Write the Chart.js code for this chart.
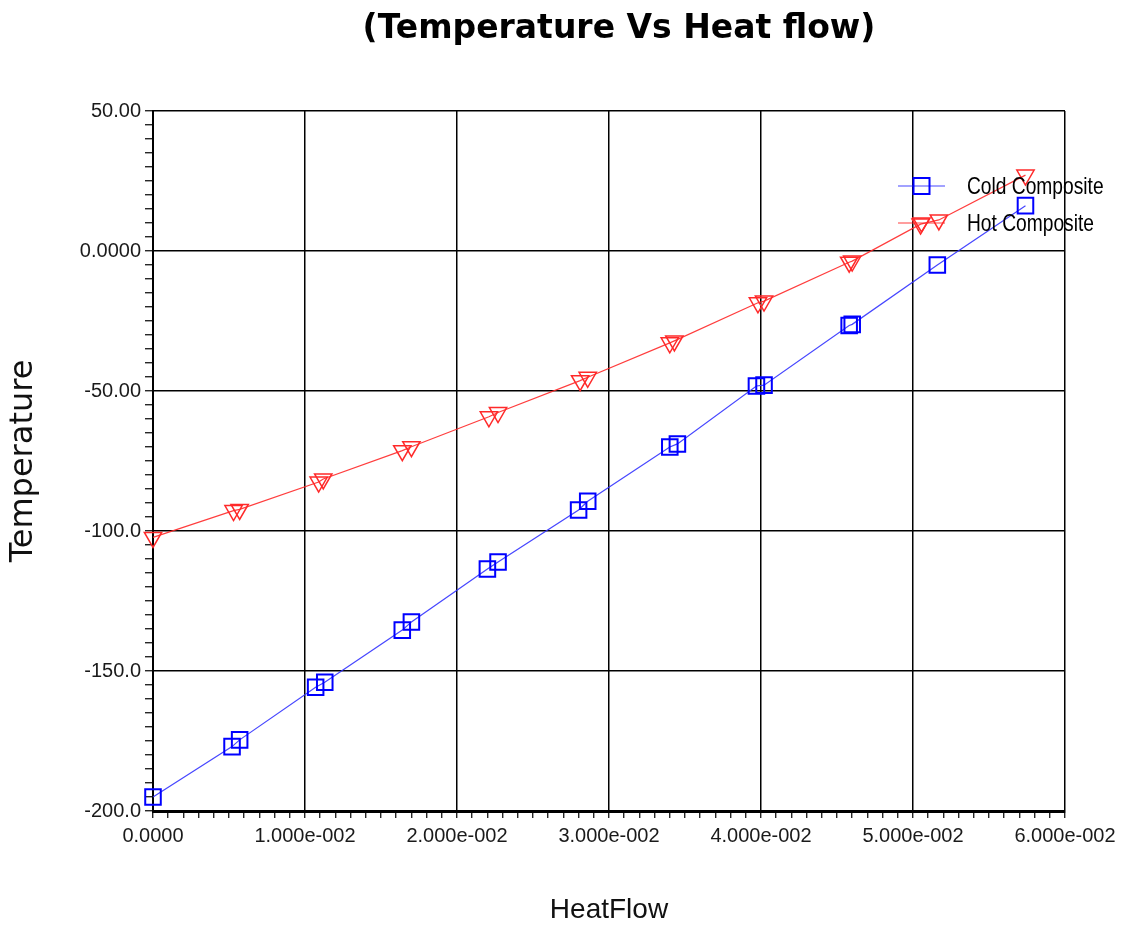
<!DOCTYPE html>
<html>
<head>
<meta charset="utf-8">
<title>Temperature Vs Heat flow</title>
<script src="https://cdn.jsdelivr.net/npm/chart.js@4.4.1/dist/chart.umd.min.js"></script>
<style>
  html, body { margin: 0; padding: 0; background: #fff; }
  #wrap { position: relative; width: 1122px; height: 932px; }
</style>
</head>
<body>
<div id="wrap"><canvas id="chart" width="1122" height="932"></canvas></div>
<script>
// --- data ---
const coldHeatFlow = [0.0000, 0.0052, 0.0057, 0.0107, 0.0113, 0.0164, 0.0170, 0.0220, 0.0227,
  0.0280, 0.0286, 0.0340, 0.0345, 0.0397, 0.0402, 0.0458, 0.0460, 0.0516, 0.0574];
const coldTemperature = [-195.0, -177.0, -174.6, -155.8, -154.0, -135.4, -132.5, -113.6, -111.1,
  -92.5, -89.4, -70.0, -68.9, -48.2, -47.9, -26.6, -26.2, -5.0, 16.2];

const hotHeatFlow = [0.0000, 0.0053, 0.0057, 0.0109, 0.0112, 0.0164, 0.0170, 0.0221, 0.0227,
  0.0281, 0.0286, 0.0340, 0.0343, 0.0398, 0.0402, 0.0458, 0.0460, 0.0505, 0.0517, 0.0574];
const hotTemperature = [-102.3, -92.7, -92.3, -82.5, -81.4, -71.3, -69.9, -59.2, -57.7,
  -46.3, -45.1, -32.8, -32.1, -18.5, -17.9, -4.0, -3.6, 9.6, 11.1, 27.1];

const seriesNames = ['Cold Composite', 'Hot Composite'];

const xTickValues = [0, 0.01, 0.02, 0.03, 0.04, 0.05, 0.06];
const xTickLabels = ['0.0000', '1.000e-002', '2.000e-002', '3.000e-002', '4.000e-002', '5.000e-002', '6.000e-002'];
const yTickValues = [50, 0, -50, -100, -150, -200];
const yTickLabels = ['50.00', '0.0000', '-50.00', '-100.0', '-150.0', '-200.0'];

const chartTitle = '(Temperature Vs Heat flow)';
const xTitle = 'HeatFlow';
const yTitle = 'Temperature';

// --- helpers ---
const SANS = '"Liberation Sans", Arial, sans-serif';

const findLabel = (value, values, labels, tol) => {
  const idx = values.findIndex((v) => Math.abs(v - value) < tol);
  return idx >= 0 ? labels[idx] : '';
};
const isMajor = (value, values, tol) => values.some((v) => Math.abs(v - value) < tol);

const toPoints = (xs, ys) => xs.map((x, i) => ({ x, y: ys[i] }));

// title + legend drawn straight onto the canvas
const decorations = {
  id: 'decorations',
  afterDraw(chart) {
    const { ctx } = chart;
    ctx.save();
    ctx.fillStyle = '#000';
    ctx.font = 'bold 33px "DejaVu Sans", sans-serif';
    ctx.textAlign = 'center';
    ctx.textBaseline = 'middle';
    ctx.fillText(chartTitle, 619, 29);

    const rows = [186, 223];
    chart.data.datasets.forEach((ds, i) => {
      const y = rows[i];
      ctx.strokeStyle = ds.borderColor;
      ctx.lineWidth = 1.2;
      ctx.beginPath();
      ctx.moveTo(898, y);
      ctx.lineTo(945, y);
      ctx.stroke();
      ctx.strokeStyle = ds.pointBorderColor;
      ctx.lineWidth = ds.pointBorderWidth;
      ctx.beginPath();
      if (ds.pointStyle === 'rect') {
        ctx.rect(913.5, y - 8, 16, 16);
      } else {
        ctx.moveTo(913, y - 5);
        ctx.lineTo(930, y - 5);
        ctx.lineTo(921.5, y + 9);
        ctx.closePath();
      }
      ctx.stroke();
      // narrow legend text: squeeze a regular face horizontally
      ctx.save();
      ctx.translate(967, y + 8);
      ctx.scale(0.8, 1);
      ctx.fillStyle = '#000';
      ctx.font = '24px ' + SANS;
      ctx.textAlign = 'left';
      ctx.textBaseline = 'alphabetic';
      ctx.fillText(ds.label, 0, 0);
      ctx.restore();
    });
    ctx.restore();
  },
};

new Chart(document.getElementById('chart'), {
  type: 'scatter',
  data: {
    datasets: [
      {
        label: seriesNames[0],
        data: toPoints(coldHeatFlow, coldTemperature),
        showLine: true,
        borderColor: 'rgba(50,50,255,0.9)',
        borderWidth: 1.2,
        pointStyle: 'rect',
        pointRadius: 11,
        pointBorderColor: '#0000ff',
        pointBorderWidth: 2,
        pointBackgroundColor: 'rgba(0,0,0,0)',
        clip: false,
      },
      {
        label: seriesNames[1],
        data: toPoints(hotHeatFlow, hotTemperature),
        showLine: true,
        borderColor: 'rgba(255,40,40,0.9)',
        borderWidth: 1.2,
        pointStyle: 'triangle',
        pointRotation: 180,
        pointRadius: 10,
        pointBorderColor: '#ff2a2a',
        pointBorderWidth: 1.5,
        pointBackgroundColor: 'rgba(0,0,0,0)',
        clip: false,
      },
    ],
  },
  options: {
    responsive: false,
    animation: false,
    layout: { padding: { top: 111, right: 57, left: 0, bottom: 0 } },
    plugins: {
      legend: { display: false },
      title: { display: false },
      tooltip: { enabled: false },
    },
    scales: {
      x: {
        type: 'linear',
        min: 0,
        max: 0.06,
        afterFit: (s) => { s.height = 121; },
        ticks: {
          stepSize: 0.001,
          autoSkip: false,
          maxRotation: 0,
          padding: 6,
          color: '#1a1a1a',
          font: { family: SANS, size: 20 },
          callback: (v) => findLabel(v, xTickValues, xTickLabels, 1e-6),
        },
        grid: {
          color: (c) => (c.tick && isMajor(c.tick.value, xTickValues, 1e-6) ? '#000' : 'rgba(0,0,0,0)'),
          lineWidth: 1.5,
          tickColor: '#000',
          tickWidth: 1.2,
          tickLength: 7,
        },
        border: { color: '#000', width: 3 },
        title: {
          display: true,
          text: xTitle,
          color: '#111',
          font: { family: SANS, size: 28 },
          padding: { top: 0, bottom: 5 },
        },
      },
      y: {
        type: 'linear',
        min: -200,
        max: 50,
        afterFit: (s) => { s.width = 153; },
        ticks: {
          stepSize: 5,
          autoSkip: false,
          padding: 4,
          color: '#1a1a1a',
          font: { family: SANS, size: 20 },
          callback: (v) => findLabel(v, yTickValues, yTickLabels, 1e-6),
        },
        grid: {
          color: (c) => (c.tick && isMajor(c.tick.value, yTickValues, 1e-6) ? '#000' : 'rgba(0,0,0,0)'),
          lineWidth: 1.5,
          tickColor: '#000',
          tickWidth: 1.2,
          tickLength: 8,
        },
        border: { color: '#000', width: 2 },
        title: {
          display: true,
          text: yTitle,
          color: '#111',
          font: { family: '"DejaVu Sans", sans-serif', size: 32 },
          padding: { top: 4, bottom: 0 },
        },
      },
    },
  },
  plugins: [decorations],
});
</script>
</body>
</html>
